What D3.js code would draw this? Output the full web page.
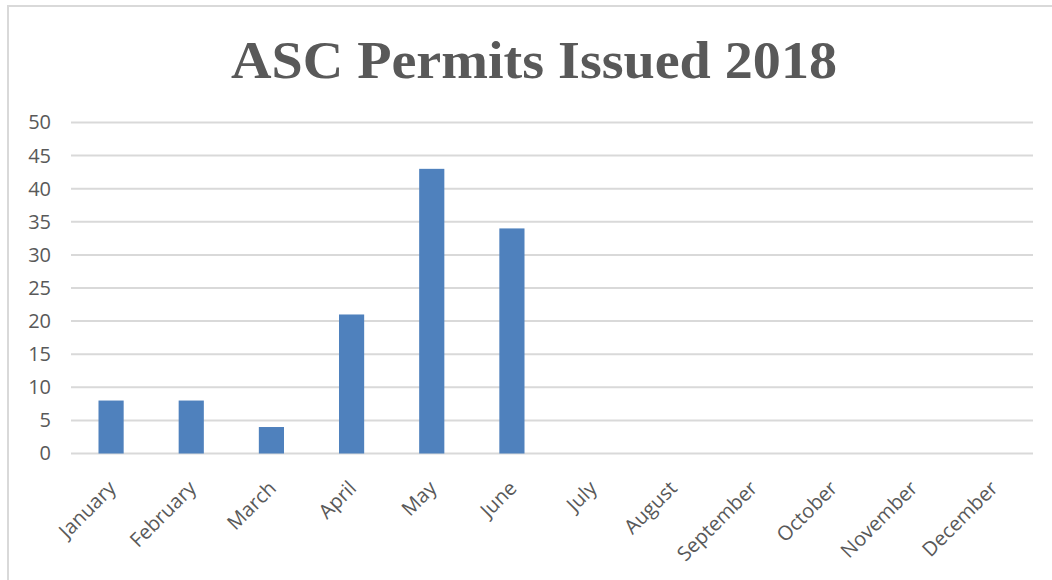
<!DOCTYPE html>
<html>
<head>
<meta charset="utf-8">
<script src="https://cdn.jsdelivr.net/npm/d3@7"></script>
<style>
  body { margin: 0; background: #fff; }
  .axis text { font-family: "Open Sans", sans-serif; fill: #595959; }
</style>
</head>
<body>
<div class="chart"></div>
<script>
// === Data ===
const months = ["January", "February", "March", "April", "May", "June",
                "July", "August", "September", "October", "November", "December"];
const permits = [8, 8, 4, 21, 43, 34, 0, 0, 0, 0, 0, 0];
const yTicks = [0, 5, 10, 15, 20, 25, 30, 35, 40, 45, 50];

// Chart init
const W = 1052, H = 580;
const margin = {top: 122.5, right: 19, bottom: 126.5, left: 71};
const width = W - margin.left - margin.right;
const height = H - margin.top - margin.bottom;

const root = d3.select(".chart").append("svg")
    .attr("width", W)
    .attr("height", H);

// outer frame
root.append("rect")
    .attr("x", 8).attr("y", 6)
    .attr("width", W - 8 + 2).attr("height", H - 6 + 2)
    .attr("fill", "none")
    .attr("stroke", "#d9d9d9")
    .attr("stroke-width", 2);

root.append("text")
    .attr("x", 534).attr("y", 78)
    .attr("text-anchor", "middle")
    .attr("font-family", "'Liberation Serif', 'DejaVu Serif', serif")
    .attr("font-weight", "bold")
    .attr("font-size", 53)
    .attr("textLength", 606)
    .attr("lengthAdjust", "spacingAndGlyphs")
    .attr("fill", "#595959")
    .text("ASC Permits Issued 2018");

const svg = root.append("g")
    .attr("transform", "translate(" + margin.left + "," + margin.top + ")");

// === Scales ===
const xScale = d3.scaleBand()
    .domain(months)
    .range([0, width])
    .paddingInner(0.686)
    .paddingOuter(0.343);
const yScale = d3.scaleLinear()
    .domain([0, 50])
    .range([height, 0]);

// gridlines
svg.append("g")
    .selectAll("line")
    .data(yTicks)
    .join("line")
    .attr("x1", 0).attr("x2", width)
    .attr("y1", d => yScale(d)).attr("y2", d => yScale(d))
    .attr("stroke", "#d9d9d9")
    .attr("stroke-width", 2);

// y axis
const yAxis = d3.axisLeft(yScale).tickValues(yTicks).tickSize(0).tickPadding(20);
svg.append("g")
    .attr("class", "axis y-axis")
    .call(yAxis)
    .call(g => g.select(".domain").remove())
    .selectAll("text")
    .attr("font-size", 20);

// bars
svg.selectAll("rect.bar")
    .data(months.map((m, i) => ({month: m, value: permits[i]})))
    .join("rect")
    .attr("class", "bar")
    .attr("x", d => xScale(d.month))
    .attr("width", xScale.bandwidth())
    .attr("y", d => yScale(d.value))
    .attr("height", d => height - yScale(d.value))
    .attr("fill", "#4f81bd");

// x axis
const xAxis = d3.axisBottom(xScale).tickSize(0).tickPadding(0);
svg.append("g")
    .attr("class", "axis x-axis")
    .attr("transform", "translate(0," + height + ")")
    .call(xAxis)
    .call(g => g.select(".domain").remove())
    .selectAll("text")
    .attr("font-size", 20)
    .attr("text-anchor", "end")
    .attr("dy", 0)
    .attr("transform", "translate(6,36) rotate(-45)");
</script>
</body>
</html>
